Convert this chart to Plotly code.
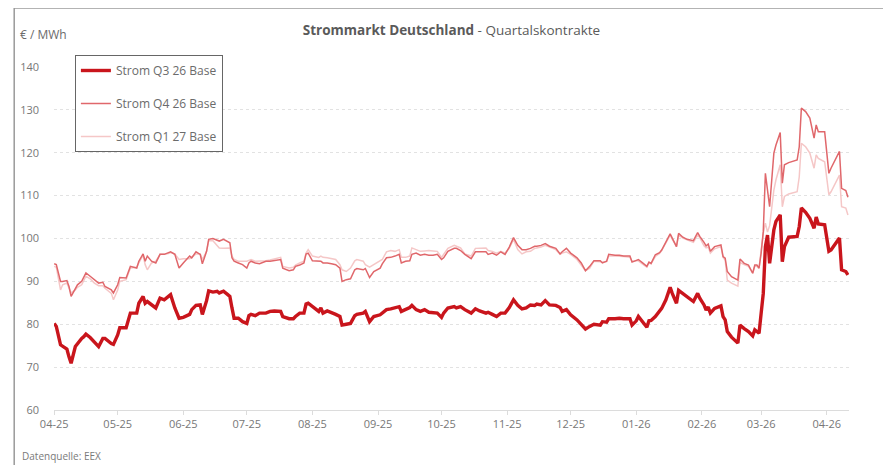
import plotly.graph_objects as go

# ---------------- data ----------------
dates = [
    "2025-04-01", "2025-04-02", "2025-04-04", "2025-04-05", "2025-04-07", "2025-04-08", "2025-04-09",
    "2025-04-11", "2025-04-12", "2025-04-14", "2025-04-15", "2025-04-16", "2025-04-18", "2025-04-20",
    "2025-04-22", "2025-04-24", "2025-04-25", "2025-04-28", "2025-04-29", "2025-05-01", "2025-05-02",
    "2025-05-05", "2025-05-07", "2025-05-10", "2025-05-11", "2025-05-13", "2025-05-14", "2025-05-15",
    "2025-05-17", "2025-05-19", "2025-05-21", "2025-05-23", "2025-05-25", "2025-05-26", "2025-05-28",
    "2025-05-30", "2025-06-01", "2025-06-04", "2025-06-05", "2025-06-07", "2025-06-09", "2025-06-10",
    "2025-06-12", "2025-06-13", "2025-06-15", "2025-06-17", "2025-06-18", "2025-06-20", "2025-06-22",
    "2025-06-23", "2025-06-24", "2025-06-25", "2025-06-27", "2025-06-29", "2025-07-01", "2025-07-02",
    "2025-07-03",
    "2025-07-05", "2025-07-07", "2025-07-10", "2025-07-12", "2025-07-14", "2025-07-17", "2025-07-18",
    "2025-07-21", "2025-07-23", "2025-07-24", "2025-07-26", "2025-07-28", "2025-07-29", "2025-07-30",
    "2025-08-01", "2025-08-03", "2025-08-04", "2025-08-05", "2025-08-06", "2025-08-08", "2025-08-10",
    "2025-08-12", "2025-08-14", "2025-08-15", "2025-08-17", "2025-08-19", "2025-08-21", "2025-08-22",
    "2025-08-25", "2025-08-26", "2025-08-28", "2025-08-30", "2025-09-02", "2025-09-03", "2025-09-05",
    "2025-09-07", "2025-09-09", "2025-09-11", "2025-09-12", "2025-09-14", "2025-09-16", "2025-09-17",
    "2025-09-19", "2025-09-21", "2025-09-23", "2025-09-25", "2025-09-27", "2025-09-29", "2025-10-01",
    "2025-10-02", "2025-10-04",
    "2025-10-07", "2025-10-08", "2025-10-10", "2025-10-12", "2025-10-15", "2025-10-17", "2025-10-19",
    "2025-10-22", "2025-10-23", "2025-10-25", "2025-10-27", "2025-10-29", "2025-10-31", "2025-11-02",
    "2025-11-04", "2025-11-06", "2025-11-08", "2025-11-10", "2025-11-12", "2025-11-14", "2025-11-15",
    "2025-11-17", "2025-11-19", "2025-11-21", "2025-11-24", "2025-11-26", "2025-11-27", "2025-11-29",
    "2025-12-01", "2025-12-04", "2025-12-06", "2025-12-08", "2025-12-10", "2025-12-12", "2025-12-15",
    "2025-12-16", "2025-12-18", "2025-12-19", "2025-12-22", "2025-12-24", "2025-12-26", "2025-12-29",
    "2025-12-30", "2026-01-01", "2026-01-02", "2026-01-04", "2026-01-06", "2026-01-07",
    "2026-01-08", "2026-01-10", "2026-01-12", "2026-01-13", "2026-01-15", "2026-01-17", "2026-01-18",
    "2026-01-20", "2026-01-21", "2026-01-23", "2026-01-25", "2026-01-27", "2026-01-28", "2026-01-30",
    "2026-01-31", "2026-02-02", "2026-02-03", "2026-02-04", "2026-02-05", "2026-02-07", "2026-02-10",
    "2026-02-11", "2026-02-12", "2026-02-13", "2026-02-15", "2026-02-18", "2026-02-19", "2026-02-21",
    "2026-02-23", "2026-02-25", "2026-02-26", "2026-02-27", "2026-02-28", "2026-03-01", "2026-03-02",
    "2026-03-03", "2026-03-04", "2026-03-05", "2026-03-07", "2026-03-08", "2026-03-10", "2026-03-11",
    "2026-03-12", "2026-03-14", "2026-03-18", "2026-03-19", "2026-03-20", "2026-03-22", "2026-03-24",
    "2026-03-26", "2026-03-27", "2026-03-28", "2026-03-31", "2026-04-02", "2026-04-03", "2026-04-07",
    "2026-04-08", "2026-04-10", "2026-04-11",
]

q3_26 = [
    80.2, 79.5, 75.2, 74.8, 74.2, 72.4, 70.9, 74.8, 75.5, 76.7, 77.1, 77.7, 76.9, 75.7,
    74.8, 76.7, 76.7, 75.5, 75.3, 77.5, 79.2, 79.2, 82.6, 82.6, 84.9, 86.5, 84.9, 85.3,
    84.5, 83.8, 86.1, 85.7, 86.5, 86.9, 83.8, 81.4, 81.6, 82.3, 83.4, 84.4, 84.5, 82.3,
    85.5, 87.8, 87.5, 87.7, 87.3, 87.7, 86.9, 86.5, 83.8, 81.4, 81.4, 80.6, 80.2, 82.0,
    82.3,
    82.0, 82.6, 82.6, 83.0, 83.1, 83.0, 81.8, 81.3, 81.3, 81.8, 82.6, 82.6, 84.7, 84.9,
    84.1, 83.4, 83.0, 83.8, 82.6, 83.1, 82.8, 82.3, 81.8, 79.8, 80.0, 80.2, 82.0, 82.3,
    82.6, 83.0, 80.6, 81.8, 82.2, 82.6, 83.4, 83.6, 83.8, 84.1, 83.0, 83.4, 83.9, 84.4,
    83.4, 83.0, 83.4, 82.8, 82.6, 82.6, 81.6, 82.6, 83.8,
    84.1, 83.8, 84.1, 83.4, 82.6, 83.6, 83.1, 82.6, 82.8, 82.3, 81.8, 82.6, 82.6, 83.9,
    85.7, 84.4, 83.6, 83.8, 84.5, 84.4, 84.7, 84.5, 85.5, 84.5, 84.4, 83.9, 83.0, 83.4,
    82.2, 81.0, 79.8, 78.9, 79.5, 80.0, 79.8, 80.6, 80.5, 81.3, 81.3, 81.4, 81.3, 81.3,
    79.8, 80.8, 81.8, 80.6, 79.3, 80.8,
    80.9, 81.8, 83.0, 83.7, 85.7, 88.6, 87.2, 84.9, 87.9, 87.2, 86.5, 85.7, 85.3, 87.2,
    86.1, 84.5, 83.3, 84.0, 82.6, 83.7, 84.3, 81.8, 81.0, 78.3, 77.0, 75.6, 79.8, 79.0,
    78.3, 77.3, 78.7, 78.3, 77.9, 82.6, 87.2, 98.1, 100.8, 94.2, 102.0, 104.0, 105.5, 94.6,
    98.1, 100.3, 100.5, 102.8, 107.1, 106.1, 104.7, 102.4, 105.0, 103.4, 103.2, 97.0, 97.3, 100.1,
    92.7, 92.3, 91.5,
]

q4_26 = [
    94.1, 93.9, 90.0, 90.0, 90.2, 88.8, 86.5, 88.4, 89.2, 90.0, 90.9, 92.0, 91.2, 90.4,
    89.6, 89.8, 88.8, 88.0, 87.3, 89.2, 90.9, 90.8, 93.5, 93.1, 94.7, 96.4, 94.7, 95.9,
    94.7, 94.3, 96.3, 96.3, 96.6, 96.9, 96.3, 93.1, 94.3, 95.9, 95.5, 96.9, 96.3, 94.1,
    97.0, 99.8, 100.0, 99.5, 99.4, 99.8, 99.2, 99.0, 95.5, 94.7, 94.3, 93.9, 93.1, 94.3,
    94.7,
    94.3, 94.1, 94.7, 94.7, 94.8, 95.1, 93.1, 92.5, 92.7, 93.5, 93.8, 94.3, 96.4, 96.6,
    94.8, 94.7, 94.8, 94.7, 94.3, 94.3, 94.1, 93.9, 93.1, 90.0, 90.4, 90.6, 92.7, 93.0,
    92.7, 93.0, 90.9, 92.3, 93.1, 94.1, 95.5, 95.6, 95.9, 96.3, 94.3, 94.7, 94.8, 96.3,
    96.6, 96.1, 96.3, 96.1, 96.1, 96.3, 95.1, 95.5, 97.0,
    97.7, 97.7, 97.2, 96.3, 95.3, 96.9, 96.9, 96.9, 96.3, 96.6, 96.1, 96.9, 96.3, 98.0,
    100.2, 98.4, 97.4, 97.4, 97.7, 98.2, 98.2, 98.4, 98.8, 98.2, 97.7, 96.4, 96.9, 97.7,
    96.6, 95.5, 94.3, 92.5, 93.5, 94.8, 94.8, 94.3, 94.7, 96.3, 96.1, 96.1, 95.9, 95.9,
    94.5, 94.8, 95.1, 94.3, 93.5, 94.5,
    94.2, 96.2, 96.7, 97.3, 99.3, 101.1, 100.1, 98.1, 101.2, 100.3, 99.8, 99.7, 99.5, 101.4,
    100.5, 99.1, 98.3, 98.7, 97.0, 98.1, 98.5, 95.8, 95.4, 92.3, 91.1, 90.3, 95.2, 94.2,
    93.8, 91.9, 93.8, 93.8, 93.1, 96.6, 101.6, 115.2, 110.5, 107.4, 119.9, 121.8, 124.7, 112.9,
    117.2, 117.7, 118.3, 121.4, 130.4, 129.6, 128.1, 123.4, 126.5, 124.9, 124.9, 115.2, 116.4, 120.3,
    111.7, 111.2, 109.6,
]

q1_27 = [
    93.5, 93.3, 88.0, 89.2, 89.6, 88.5, 87.3, 88.0, 88.6, 89.2, 90.2, 91.2, 90.6, 89.6,
    89.0, 89.0, 88.4, 87.2, 85.7, 88.0, 90.0, 90.4, 93.1, 93.3, 94.3, 96.1, 93.9, 92.7,
    94.3, 94.7, 96.3, 96.3, 96.5, 96.7, 96.4, 95.1, 95.3, 95.3, 95.6, 96.4, 96.4, 95.1,
    97.0, 99.5, 99.5, 98.2, 97.8, 97.7, 97.8, 97.8, 95.9, 95.1, 94.7, 94.7, 94.7, 94.9,
    95.1,
    94.7, 94.7, 94.8, 95.0, 95.3, 95.6, 93.5, 93.1, 93.3, 93.8, 94.3, 94.7, 96.6, 97.4,
    95.9, 95.6, 95.6, 95.9, 95.6, 95.5, 95.3, 95.1, 93.9, 92.7, 92.3, 93.1, 94.8, 95.1,
    94.7, 93.9, 93.3, 93.9, 94.7, 95.1, 96.9, 97.2, 97.0, 97.4, 95.6, 95.6, 95.9, 97.8,
    97.4, 97.0, 97.1, 97.2, 97.1, 97.0, 95.6, 96.3, 97.7,
    98.4, 98.2, 97.8, 96.4, 95.9, 97.7, 97.7, 97.8, 97.2, 97.0, 96.6, 97.0, 96.6, 97.7,
    99.8, 97.4, 96.4, 96.9, 97.0, 97.7, 97.8, 98.0, 98.4, 98.0, 97.4, 96.3, 96.6, 96.9,
    96.3, 95.1, 93.8, 92.5, 93.1, 94.7, 94.6, 94.5, 94.6, 95.9, 95.9, 95.9, 95.8, 95.6,
    94.7, 94.8, 94.8, 94.0, 93.3, 94.3,
    94.1, 95.8, 96.5, 97.2, 99.0, 100.8, 99.8, 98.1, 100.8, 100.1, 99.7, 99.4, 99.1, 100.8,
    100.2, 98.3, 97.8, 98.0, 96.6, 97.6, 98.1, 95.6, 95.0, 90.3, 89.6, 88.9, 94.4, 93.9,
    93.5, 91.9, 93.5, 93.5, 93.0, 97.3, 101.2, 103.6, 101.5, 103.0, 111.3, 113.7, 117.2, 107.4,
    109.8, 110.4, 110.9, 114.4, 122.2, 121.4, 119.9, 116.4, 119.5, 118.7, 117.9, 110.2, 110.9, 114.8,
    107.4, 107.1, 105.5,
]

series_names = ["Strom Q3 26 Base", "Strom Q4 26 Base", "Strom Q1 27 Base"]
y_ticks = [60, 70, 80, 90, 100, 110, 120, 130, 140]

# ---------------- figure ----------------
FONT = "Open Sans"
GRAY = "#6b6b6b"
OFF = 8  # page body margin offset

fig = go.Figure()
styles = [
    dict(color="#C9151C", width=3.4),
    dict(color="#E0676B", width=1.5),
    dict(color="#F5C7C7", width=1.5),
]
for i in [2, 1, 0]:
    vals = [q3_26, q4_26, q1_27][i]
    fig.add_trace(go.Scatter(
        x=dates, y=vals, mode="lines", name=series_names[i],
        line=styles[i], legendgroup=f"g{i}", legendrank=i + 1,
        hoverinfo="skip",
    ))

W, H = 891 - OFF, 465 - OFF
L = 50 - OFF
T = 67 - OFF
plot_right = 849 - OFF
plot_bottom = 410 - OFF
R = W - plot_right
B = H - plot_bottom
pw, ph = plot_right - L, plot_bottom - T


def px_x(x):
    return (x - OFF - L) / pw


def px_y(y):
    return (plot_bottom - (y - OFF)) / ph


fig.update_layout(
    width=W, height=H,
    margin=dict(l=L, r=R, t=T, b=B, pad=0),
    paper_bgcolor="white", plot_bgcolor="white",
    font=dict(family=FONT, color=GRAY, size=11),
    title=dict(
        text="<b>Strommarkt Deutschland</b> - Quartalskontrakte",
        x=0.5, xref="paper", xanchor="center",
        y=1 - (30 - OFF) / H, yref="container", yanchor="middle",
        font=dict(family=FONT, size=13.5, color="#5a5a5a"),
    ),
    showlegend=True,
    legend=dict(
        x=px_x(71), xref="paper", xanchor="left",
        y=px_y(55), yref="paper", yanchor="top",
        bgcolor="white", bordercolor="#666666", borderwidth=1,
        font=dict(family=FONT, size=12, color=GRAY),
        tracegroupgap=14,
        traceorder="grouped",
        itemwidth=30,
    ),
    xaxis=dict(
        type="date",
        range=["2025-03-31 22:00", "2026-04-11 12:00"],
        tick0="2025-04-01", dtick="M1", tickformat="%m-%y",
        showgrid=False, zeroline=False,
        showline=True, linecolor="#dcdcdc", linewidth=1,
        ticks="outside", ticklen=4, tickcolor="#dcdcdc",
        tickfont=dict(family=FONT, size=11, color="#777777"),
    ),
    yaxis=dict(
        range=[60, 140], tickvals=y_ticks,
        showgrid=True, gridcolor="#e2e2e2", griddash="3px,3px", gridwidth=1,
        zeroline=False, showline=False, ticks="",
        ticklabelstandoff=14,
        tickfont=dict(family=FONT, size=11, color="#777777"),
    ),
)

# frame around the whole chart
fig.add_shape(
    type="rect", xref="paper", yref="paper",
    x0=px_x(10), x1=px_x(887),
    y0=px_y(480), y1=px_y(8),
    line=dict(color="#9a9a9a", width=1.5), fillcolor="rgba(0,0,0,0)", layer="below",
)

fig.add_annotation(
    text="€ / MWh", xref="paper", yref="paper",
    x=px_x(14), xanchor="left",
    y=px_y(35), yanchor="middle",
    showarrow=False, font=dict(family=FONT, size=12, color=GRAY),
)
fig.add_annotation(
    text="Datenquelle: EEX", xref="paper", yref="paper",
    x=px_x(16), xanchor="left",
    y=px_y(456), yanchor="middle",
    showarrow=False, font=dict(family=FONT, size=10, color="#7a7a7a"),
)

fig.write_html("out.html")
